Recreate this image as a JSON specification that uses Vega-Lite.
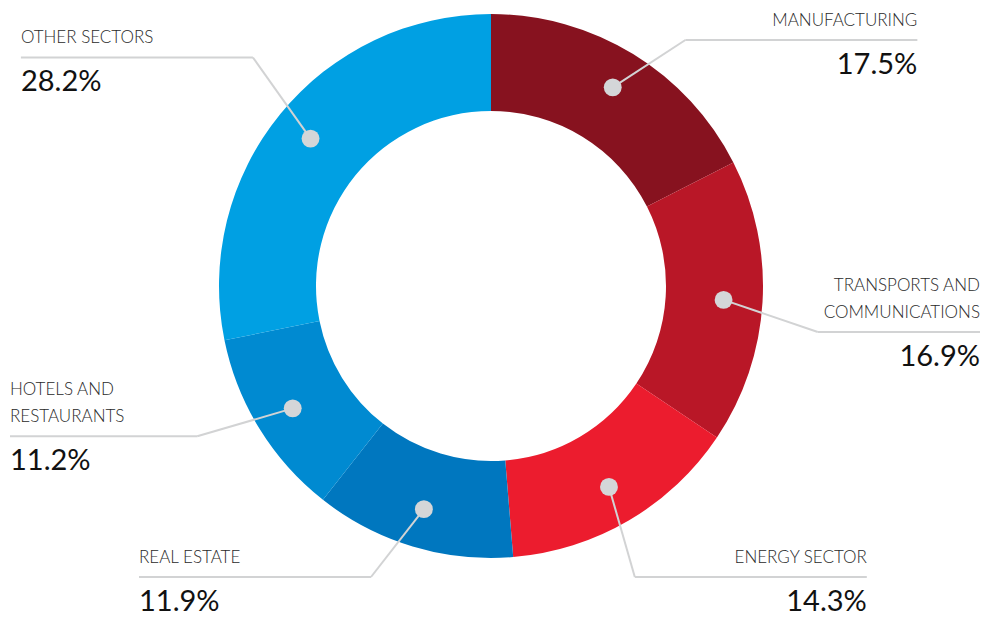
{
  "$schema": "https://vega.github.io/schema/vega-lite/v6.json",
  "width": 990,
  "height": 620,
  "padding": 0,
  "autosize": "none",
  "background": "white",
  "config": {"view": {"stroke": null}},
  "data": {
    "values": [
      {"sector": "MANUFACTURING", "share": 17.5, "rank": 1},
      {"sector": "TRANSPORTS AND\nCOMMUNICATIONS", "share": 16.9, "rank": 2},
      {"sector": "ENERGY SECTOR", "share": 14.3, "rank": 3},
      {"sector": "REAL ESTATE", "share": 11.9, "rank": 4},
      {"sector": "HOTELS AND\nRESTAURANTS", "share": 11.2, "rank": 5},
      {"sector": "OTHER SECTORS", "share": 28.2, "rank": 6}
    ]
  },
  "transform": [
    {"window": [{"op": "sum", "field": "share", "as": "cum"}], "sort": [{"field": "rank"}], "frame": [null, 0]},
    {"joinaggregate": [{"op": "sum", "field": "share", "as": "total"}]},
    {"calculate": "2*PI*(datum.cum - datum.share/2)/datum.total", "as": "mid"},
    {"calculate": "233*sin(datum.mid)", "as": "dotX"},
    {"calculate": "233*cos(datum.mid)", "as": "dotY"},
    {"calculate": "330*sin(datum.mid+0.08)", "as": "elbX"},
    {"calculate": "clamp(330*cos(datum.mid+0.08), -291, 246)", "as": "elbY"},
    {"calculate": "datum.elbX >= 0 ? min(datum.elbX + 232, 489) : max(datum.elbX - 232, -481)", "as": "endX"},
    {"calculate": "datum.elbX >= 0 ? 'right' : 'left'", "as": "side"},
    {"calculate": "datum.elbY + 27*(length(split(datum.sector, '\\n')) - 1)", "as": "nameY"},
    {"calculate": "format(datum.share, '.1f') + '%'", "as": "pct"}
  ],
  "encoding": {
    "x": {"type": "quantitative", "scale": {"domain": [-491, 499], "nice": false, "zero": false}, "axis": null},
    "y": {"type": "quantitative", "scale": {"domain": [-334, 286], "nice": false, "zero": false}, "axis": null}
  },
  "layer": [
    {
      "mark": {"type": "arc", "innerRadius": 175, "outerRadius": 272},
      "encoding": {
        "theta": {"field": "share", "type": "quantitative", "stack": true},
        "order": {"field": "rank", "type": "quantitative"},
        "color": {
          "field": "sector",
          "type": "nominal",
          "scale": {
            "domain": ["MANUFACTURING", "TRANSPORTS AND\nCOMMUNICATIONS", "ENERGY SECTOR", "REAL ESTATE", "HOTELS AND\nRESTAURANTS", "OTHER SECTORS"],
            "range": ["#87121f", "#b91727", "#ec1c2e", "#0077bf", "#008ad1", "#00a0e3"]
          },
          "legend": null
        },
        "x": {"datum": 0, "type": "quantitative"},
        "y": {"datum": 0, "type": "quantitative"}
      }
    },
    {
      "mark": {"type": "rule", "stroke": "#d2d3d4", "strokeWidth": 2},
      "encoding": {
        "x": {"field": "dotX", "type": "quantitative"},
        "y": {"field": "dotY", "type": "quantitative"},
        "x2": {"field": "elbX"},
        "y2": {"field": "elbY"}
      }
    },
    {
      "mark": {"type": "rule", "stroke": "#d2d3d4", "strokeWidth": 2},
      "encoding": {
        "x": {"field": "elbX", "type": "quantitative"},
        "x2": {"field": "endX"},
        "y": {"field": "elbY", "type": "quantitative"}
      }
    },
    {
      "mark": {"type": "point", "filled": true, "size": 320, "color": "#d4d6d8", "opacity": 1},
      "encoding": {
        "x": {"field": "dotX", "type": "quantitative"},
        "y": {"field": "dotY", "type": "quantitative"}
      }
    },
    {
      "transform": [{"filter": "datum.side == 'right'"}],
      "mark": {"type": "text", "align": "right", "baseline": "alphabetic", "dy": -14, "lineBreak": "\n", "lineHeight": 27, "font": "Lato", "fontWeight": 300, "fontSize": 17, "color": "#2a2a2a"},
      "encoding": {
        "x": {"field": "endX", "type": "quantitative"},
        "y": {"field": "nameY", "type": "quantitative"},
        "text": {"field": "sector"}
      }
    },
    {
      "transform": [{"filter": "datum.side == 'left'"}],
      "mark": {"type": "text", "align": "left", "baseline": "alphabetic", "dy": -14, "lineBreak": "\n", "lineHeight": 27, "font": "Lato", "fontWeight": 300, "fontSize": 17, "color": "#2a2a2a"},
      "encoding": {
        "x": {"field": "endX", "type": "quantitative"},
        "y": {"field": "nameY", "type": "quantitative"},
        "text": {"field": "sector"}
      }
    },
    {
      "transform": [{"filter": "datum.side == 'right'"}],
      "mark": {"type": "text", "align": "right", "baseline": "top", "dy": 11, "font": "Lato", "fontWeight": 400, "fontSize": 29, "color": "#111111"},
      "encoding": {
        "x": {"field": "endX", "type": "quantitative"},
        "y": {"field": "elbY", "type": "quantitative"},
        "text": {"field": "pct"}
      }
    },
    {
      "transform": [{"filter": "datum.side == 'left'"}],
      "mark": {"type": "text", "align": "left", "baseline": "top", "dy": 11, "font": "Lato", "fontWeight": 400, "fontSize": 29, "color": "#111111"},
      "encoding": {
        "x": {"field": "endX", "type": "quantitative"},
        "y": {"field": "elbY", "type": "quantitative"},
        "text": {"field": "pct"}
      }
    }
  ]
}
